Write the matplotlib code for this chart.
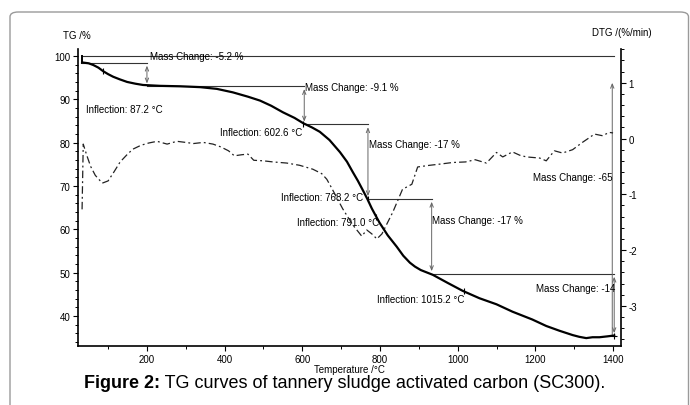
import matplotlib
matplotlib.use("Agg")
import matplotlib.pyplot as plt
from matplotlib.patches import FancyBboxPatch
from matplotlib.ticker import MultipleLocator

plt.rcParams['font.family'] = ['Liberation Sans', 'DejaVu Sans']
plt.rcParams['axes.unicode_minus'] = False

# ---- data ----
tg_T = [33, 50, 62, 75, 87, 100, 113, 130, 149, 170, 190, 234, 285, 337, 380,
        421, 460, 491, 520, 550, 580, 602, 625, 645, 670, 697, 715, 730, 743, 756,
        768, 779, 791, 799, 820, 843, 860, 877, 890, 905, 936, 975, 1013, 1056, 1100, 1141,
        1192, 1228, 1262, 1296, 1313, 1331, 1347, 1365, 1385, 1403]
tg_v = [98.5, 98.3, 97.9, 97.3, 96.5, 95.8, 95.2, 94.6, 94.0, 93.6, 93.3, 93.1, 93.0, 92.8, 92.4,
        91.6, 90.6, 89.7, 88.5, 87.0, 85.7, 84.5, 83.5, 82.5, 80.6, 77.8, 75.6, 73.2, 71.2, 69.0,
        66.9, 64.8, 62.8, 61.5, 58.6, 56.0, 53.9, 52.3, 51.4, 50.6, 49.5, 47.6, 45.8, 44.1, 42.7, 41.0,
        39.2, 37.7, 36.6, 35.6, 35.2, 34.9, 35.1, 35.1, 35.3, 35.5]

dtg_T = [33, 36, 45, 55, 67, 85, 100, 115, 131, 150, 164, 185, 205, 226, 252,
         277, 300, 320, 345, 370, 390, 410, 425, 445, 460, 475, 500, 525, 560, 593,
         627, 650, 663, 675, 704, 730, 753, 766, 779, 792, 805, 820, 833, 858, 882,
         897, 928, 953, 987, 1020, 1045, 1074, 1100, 1116, 1141, 1160, 1177, 1211, 1228, 1249,
         1270, 1296, 1321, 1340, 1352, 1373, 1390, 1400]
dtg_v = [-1.27, -0.10, -0.30, -0.50, -0.66, -0.80, -0.76, -0.60, -0.42, -0.28, -0.19, -0.12, -0.08, -0.05, -0.10,
         -0.05, -0.07, -0.09, -0.07, -0.10, -0.15, -0.22, -0.31, -0.29, -0.28, -0.39, -0.40, -0.42, -0.44, -0.48,
         -0.55, -0.63, -0.73, -0.88, -1.26, -1.55, -1.75, -1.64, -1.71, -1.80, -1.71, -1.50, -1.32, -0.91, -0.82,
         -0.51, -0.48, -0.46, -0.43, -0.42, -0.38, -0.44, -0.25, -0.33, -0.24, -0.30, -0.33, -0.35, -0.40, -0.22,
         -0.26, -0.20, -0.07, 0.02, 0.08, 0.05, 0.11, 0.10]

# mass-change steps: temperatures and TG levels
step_T = [33, 200, 605, 769, 933, 1403]
step_lvl = [98.4, 93.0, 84.2, 67.0, 49.7, 35.4]
step_labels = ['Mass Change: -5.2 %', 'Mass Change: -9.1 %', 'Mass Change: -17 %',
               'Mass Change: -17 %', 'Mass Change: -14']

infl_T = [87.2, 602.6, 768.2, 791.0, 1015.2]
infl_TG = [96.5, 84.4, 66.9, 62.8, 45.8]
infl_labels = ['Inflection: 87.2 °C', 'Inflection: 602.6 °C', 'Inflection: 768.2 °C',
               'Inflection: 791.0 °C', 'Inflection: 1015.2 °C']

x_ticks = [200, 400, 600, 800, 1000, 1200, 1400]
tg_ticks = [40, 50, 60, 70, 80, 90, 100]
dtg_ticks = [-3, -2, -1, 0, 1]

W, H = 690, 406
fig = plt.figure(figsize=(W / 100, H / 100), dpi=100)

# outer rounded frame
frame = FancyBboxPatch((10 / W, -20 / H), 678.5 / W, (H - 13 + 20) / H,
                       boxstyle="round,pad=0,rounding_size=0.012",
                       transform=fig.transFigure, fill=False, edgecolor='#9a9a9a',
                       linewidth=1.0)
fig.patches.append(frame)

ax = fig.add_axes([78 / W, 59 / H, 543 / W, 297 / H])
ax.set_xlim(22.5, 1420.5)
ax.set_ylim(33.08, 101.6)
ax2 = ax.twinx()
ax2.set_ylim(-3.72, 1.605)

for a in (ax, ax2):
    a.spines['top'].set_visible(False)
    a.patch.set_visible(False)
ax.spines['right'].set_visible(False)
ax2.spines['left'].set_visible(False)
ax.spines['left'].set_linewidth(1.2)
ax.spines['bottom'].set_linewidth(1.2)
ax2.spines['right'].set_linewidth(1.2)
ax2.spines['bottom'].set_visible(False)

ax.set_xticks(x_ticks)
ax.set_yticks(tg_ticks)
ax2.set_yticks(dtg_ticks)
ax.xaxis.set_minor_locator(MultipleLocator(100))
ax.yaxis.set_minor_locator(MultipleLocator(2))
ax2.yaxis.set_minor_locator(MultipleLocator(0.2))
ax.tick_params(axis='both', which='major', direction='out', length=3.5, width=0.8,
               labelsize=7, pad=2)
ax.tick_params(axis='both', which='minor', direction='out', length=2, width=0.7)
ax2.tick_params(axis='y', which='major', direction='out', length=3.5, width=0.8,
                labelsize=7, pad=2)
ax2.tick_params(axis='y', which='minor', direction='out', length=2, width=0.7)

# curves
ax.plot(tg_T, tg_v, color='black', linewidth=1.6, zorder=5)
ax2.plot(dtg_T, dtg_v, color='#222222', linewidth=0.9, dashes=(6, 2.5, 1.5, 2.5), zorder=4)

# mass-change construction lines
lc = '#333333'
ac = '#666666'
ax.plot([33, 1403], [100, 100], color=lc, lw=0.8)
ax.plot([33, 33], [100, step_lvl[0]], color='black', lw=1.4)
for i in range(5):
    ax.plot([step_T[i], step_T[i + 1]], [step_lvl[i], step_lvl[i]], color=lc, lw=0.8)
    ax.annotate('', xy=(step_T[i + 1], step_lvl[i + 1]), xytext=(step_T[i + 1], step_lvl[i]),
                arrowprops=dict(arrowstyle='<->,head_length=0.3,head_width=0.12', color=ac,
                                lw=0.7, shrinkA=2, shrinkB=2))
# overall -65 arrow
ax.annotate('', xy=(1398, 93.8), xytext=(1398, 35.6),
            arrowprops=dict(arrowstyle='->,head_length=0.3,head_width=0.12', color=ac,
                            lw=0.7, shrinkA=0, shrinkB=0))

fs = 7
ax.text(208, 100, step_labels[0], fontsize=fs, ha='left', va='center')
ax.text(607, 92.8, step_labels[1], fontsize=fs, ha='left', va='center')
ax.text(771, 79.7, step_labels[2], fontsize=fs, ha='left', va='center')
ax.text(935, 62.2, step_labels[3], fontsize=fs, ha='left', va='center')
ax.text(1405, 46.5, step_labels[4], fontsize=fs, ha='right', va='center')
ax.text(1398, 72.1, 'Mass Change: -65', fontsize=fs, ha='right', va='center')

infl_pos = [(44, 87.8), (388, 82.5), (545, 67.5), (586, 61.7), (792, 43.9)]
for (tx, ty), lab in zip(infl_pos, infl_labels):
    ax.text(tx, ty, lab, fontsize=fs, ha='left', va='center')
ax.plot(infl_T, infl_TG, linestyle='none', marker='|', color='black', markersize=5, mew=0.8, zorder=6)
ax.plot([1403], [35.5], linestyle='none', marker='+', color='black', markersize=5, mew=0.8, zorder=6)

# axis labels
fig.text(63 / W, 1 - 36 / H, 'TG /%', fontsize=7, ha='left', va='center')
fig.text(652 / W, 1 - 33 / H, 'DTG /(%/min)', fontsize=7, ha='right', va='center')
ax.set_xlabel('Temperature /°C', fontsize=7, labelpad=0)

# caption: bold prefix + regular text, centred
fig.canvas.draw()
r = fig.canvas.get_renderer()
cy = 1 - 384 / H
t1 = fig.text(0, cy, 'Figure 2:', fontsize=13, fontweight='bold', ha='left', va='center')
t2 = fig.text(0, cy, ' TG curves of tannery sludge activated carbon (SC300).', fontsize=13,
              ha='left', va='center')
w1 = t1.get_window_extent(r).width
w2 = t2.get_window_extent(r).width
x0 = 345 - (w1 + w2) / 2
t1.set_x(x0 / W)
t2.set_x((x0 + w1) / W)

fig.savefig('out.png', dpi=100)
